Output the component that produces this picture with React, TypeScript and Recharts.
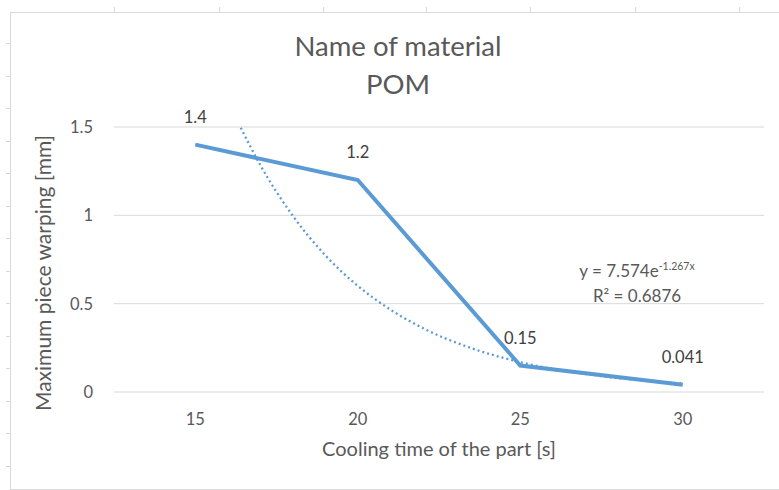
import { CartesianGrid, LabelList, Line, LineChart, XAxis, YAxis } from 'recharts'

const coolingTime = [15, 20, 25, 30]
const warping = [1.4, 1.2, 0.15, 0.041]

// exponential trendline, points
const trendTime = [16.4, 17, 18, 19, 20, 21, 22, 23.5, 25, 27.5, 30]
const trendValue = [1.496, 1.285, 0.998, 0.774, 0.601, 0.467, 0.362, 0.248, 0.169, 0.09, 0.048]

const xTicks = [15, 20, 25, 30]
const yTicks = [0, 0.5, 1, 1.5]

const mainData = coolingTime.map((t, i) => ({ t, w: warping[i] }))
const trendData = trendTime.map((t, i) => ({ t, v: trendValue[i] }))

const FONT = 'Lato, "Open Sans", sans-serif'
const TEXT = '#595959'
const BLUE = '#5b9bd5'

export default function App() {
  return (
    <div style={{ position: 'absolute', left: 0, top: 0, width: 779, height: 490, background: '#fff', fontFamily: FONT, overflow: 'hidden' }}>
      {/* chart frame */}
      <div style={{ position: 'absolute', left: 10, top: 12, width: 800, height: 476, border: '1px solid #d9d9d9' }} />
      {[114, 219, 323, 426, 530, 635, 739].map((x) => (
        <div key={x} style={{ position: 'absolute', left: x, top: 7, width: 1, height: 5, background: '#d9d9d9' }} />
      ))}
      {Array.from({ length: 14 }, (_, i) => 43 + i * 32.5).map((y) => (
        <div key={y} style={{ position: 'absolute', left: 6, top: y, width: 4, height: 1, background: '#d9d9d9' }} />
      ))}

      <div style={{ position: 'absolute', left: 0, width: 796, top: 27, textAlign: 'center', color: TEXT, fontSize: 27.5, lineHeight: '38px' }}>
        Name of material
        <br />
        POM
      </div>

      <div
        style={{
          position: 'absolute', left: 43 - 150, top: 273 - 12, width: 300, height: 24, lineHeight: '24px',
          textAlign: 'center', color: TEXT, fontSize: 21, transform: 'rotate(-90deg)', whiteSpace: 'nowrap',
        }}
      >
        Maximum piece warping [mm]
      </div>

      <LineChart width={779} height={490} margin={{ top: 127, right: 15, bottom: 68, left: 10 }} style={{ position: 'absolute', left: 0, top: 0 }}>
        <CartesianGrid stroke="#d9d9d9" vertical={false} />
        <XAxis
          type="number"
          dataKey="t"
          domain={[12.5, 32.5]}
          ticks={xTicks}
          allowDataOverflow
          axisLine={false}
          tickLine={false}
          tickMargin={15}
          height={30}
          fontSize={16.5}
          fontFamily={FONT}
          tick={{ fill: TEXT, fontSize: 16.5, fontFamily: FONT }}
          label={{ value: 'Cooling time of the part [s]', position: 'insideBottom', offset: -34, fill: TEXT, fontSize: 20, fontFamily: FONT }}
        />
        <YAxis
          domain={[0, 1.5]}
          ticks={yTicks}
          allowDataOverflow
          axisLine={false}
          tickLine={false}
          width={104}
          tickMargin={15}
          fontSize={16.5}
          fontFamily={FONT}
          tick={{ fill: TEXT, fontSize: 16.5, fontFamily: FONT }}
        />
        <Line data={trendData} dataKey="v" type="monotone" stroke={BLUE} strokeWidth={2.3} strokeDasharray="2 3" dot={false} isAnimationActive={false} />
        <Line data={mainData} dataKey="w" type="linear" stroke={BLUE} strokeWidth={4} dot={false} isAnimationActive={false}>
          <LabelList dataKey="w" position="top" offset={22} fill="#404040" fontSize={16.5} fontFamily={FONT} />
        </Line>
      </LineChart>

      <div style={{ position: 'absolute', left: 557, width: 160, top: 258, textAlign: 'center', color: TEXT, fontSize: 17, lineHeight: '25px' }}>
        y = 7.574e<sup style={{ fontSize: 10.5, verticalAlign: 7, lineHeight: 0 }}>-1.267x</sup>
        <br />
        R² = 0.6876
      </div>
    </div>
  )
}
